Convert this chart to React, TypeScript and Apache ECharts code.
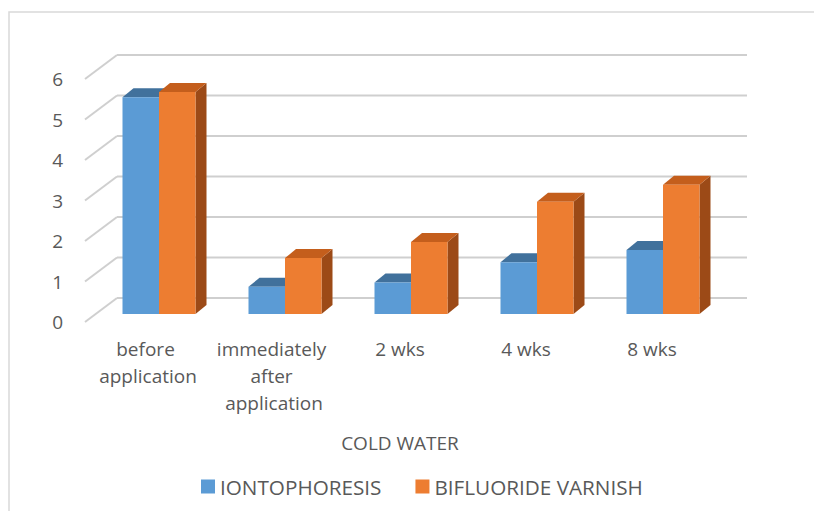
import React, { useEffect, useRef } from "react";
import * as echarts from "echarts";

const categories = ["before application", "immediately after application", "2 wks", "4 wks", "8 wks"];
const seriesNames = ["IONTOPHORESIS", "BIFLUORIDE VARNISH"];
const iontophoresis = [5.35, 0.67, 0.78, 1.28, 1.58];
const bifluorideVarnish = [5.48, 1.38, 1.78, 2.77, 3.19];
const yTicks = [0, 1, 2, 3, 4, 5, 6];
const axisTitle = "COLD WATER";

const TEXT = "#595959";
const FONT = "'Open Sans', 'Noto Sans', sans-serif";
// 3D geometry (pixels)
const WALL_DX = 32, WALL_DY = -24; // depth of floor / back wall
const FX = 11, FY = -8;            // front face of bars relative to front edge
const DX = 11, DY = -9;            // bar depth
const BW = 36.5;                   // bar width

const palettes = [
  { front: "#5B9BD5", top: "#41719C", side: "#2F5F8C" },
  { front: "#ED7D31", top: "#C45E1C", side: "#9C4A17" },
];

function barRenderer(s: number) {
  return (params: any, api: any) => {
    const c = api.value(0);
    const v = api.value(1);
    const p0 = api.coord([c, 0]);
    const pv = api.coord([c, v]);
    const x0 = p0[0] + FX + (s === 0 ? -BW : 0);
    const x1 = x0 + BW;
    const yb = p0[1] + FY;
    const yt = pv[1] + FY;
    const pal = palettes[s];
    return {
      type: "group",
      children: [
        { type: "polygon", shape: { points: [[x1, yt], [x1 + DX, yt + DY], [x1 + DX, yb + DY], [x1, yb]] }, style: { fill: pal.side } },
        { type: "polygon", shape: { points: [[x0, yt], [x1, yt], [x1 + DX, yt + DY], [x0 + DX, yt + DY]] }, style: { fill: pal.top } },
        { type: "rect", shape: { x: x0, y: yt, width: BW, height: yb - yt }, style: { fill: pal.front } },
      ],
    };
  };
}

function wallRenderer(params: any, api: any) {
  const cs = params.coordSys;
  const v = api.value(1);
  const y = api.coord([0, v])[1];
  const stroke = { stroke: "#CFCFCF", lineWidth: 2 };
  return {
    type: "group",
    children: [
      { type: "line", shape: { x1: cs.x, y1: y, x2: cs.x + WALL_DX, y2: y + WALL_DY }, style: stroke },
      { type: "line", shape: { x1: cs.x + WALL_DX, y1: y + WALL_DY, x2: cs.x + cs.width + WALL_DX, y2: y + WALL_DY }, style: stroke },
    ],
  };
}

export default function App() {
  const ref = useRef<HTMLDivElement>(null);
  useEffect(() => {
    document.body.style.margin = "0";
    const chart = echarts.init(ref.current!, null, { renderer: "svg" });
    chart.setOption({
      animation: false,
      backgroundColor: "#ffffff",
      textStyle: { fontFamily: FONT },
      graphic: [
        { type: "rect", shape: { x: 9, y: 12, width: 900, height: 700 }, style: { fill: "none", stroke: "#D9D9D9", lineWidth: 1.5 }, silent: true },
      ],
      grid: { left: 85, top: 79, width: 630, height: 243 },
      legend: {
        data: seriesNames,
        left: 196,
        top: 471,
        icon: "rect",
        itemWidth: 14,
        itemHeight: 14,
        itemGap: 34,
        textStyle: { color: TEXT, fontSize: 20.7, fontFamily: FONT },
      },
      xAxis: {
        type: "category",
        data: categories,
        axisLine: { show: false },
        axisTick: { show: false },
        splitLine: { show: false },
        axisLabel: { interval: 0, color: TEXT, fontSize: 19, lineHeight: 27, width: 122, overflow: "break", margin: 13, fontFamily: FONT },
        name: axisTitle,
        nameLocation: "middle",
        nameGap: 111,
        nameTextStyle: { color: TEXT, fontSize: 19, fontFamily: FONT },
      },
      yAxis: {
        type: "value",
        min: 0,
        max: 6,
        interval: 1,
        axisLine: { show: false },
        axisTick: { show: false },
        splitLine: { show: false },
        axisLabel: { color: TEXT, fontSize: 19, margin: 22, fontFamily: FONT },
      },
      series: [
        { type: "custom", name: "wall", renderItem: wallRenderer, data: yTicks.map((t) => [0, t]), silent: true },
        { type: "custom", name: seriesNames[0], renderItem: barRenderer(0), itemStyle: { color: palettes[0].front }, data: iontophoresis.map((v, i) => [i, v]) },
        { type: "custom", name: seriesNames[1], renderItem: barRenderer(1), itemStyle: { color: palettes[1].front }, data: bifluorideVarnish.map((v, i) => [i, v]) },
      ],
    });
    return () => chart.dispose();
  }, []);
  return <div ref={ref} style={{ width: 814, height: 511 }} />;
}
